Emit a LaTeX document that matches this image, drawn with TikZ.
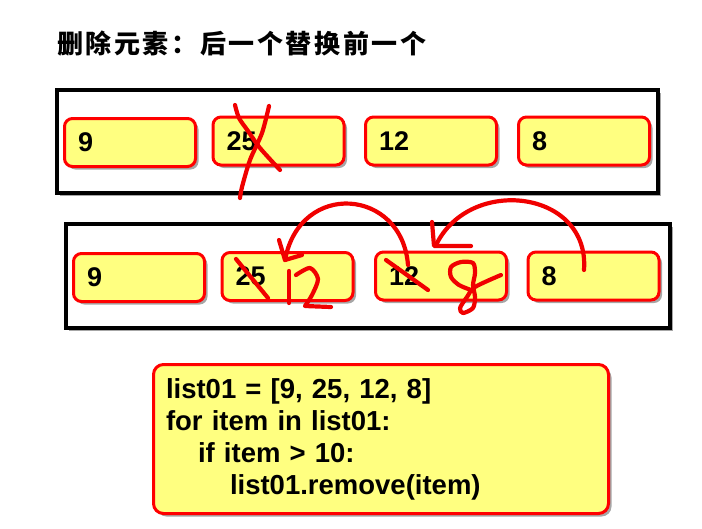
\documentclass[tikz,border=0pt]{standalone}
\usepackage{fontspec}
\setsansfont{Liberation Sans}
\newfontfamily\titlefont{Noto Sans CJK SC}[LetterSpace=10]
\usepackage{tikz}
\usetikzlibrary{shadows}
\definecolor{cellyellow}{RGB}{255,255,128}
\definecolor{penred}{RGB}{240,0,0}
\tikzset{
    softshadow/.style={
        drop shadow={shadow xshift=3pt, shadow yshift=-3pt, opacity=0.35, fill=black}
    },
    framebox/.style={
        draw=black,
        line width=4pt,
        fill=white,
        softshadow
    },
    cellbox/.style={
        rectangle,
        rounded corners=8pt,
        draw=red,
        line width=3pt,
        fill=cellyellow,
        minimum width=131pt,
        minimum height=48pt,
        text width=104pt,
        align=left,
        inner sep=0pt,
        font=\sffamily\bfseries\fontsize{27}{32}\selectfont,
        softshadow
    },
    codebox/.style={cellbox, rounded corners=10pt, minimum width=455pt, minimum height=149pt,
        text width=430pt, font=\sffamily\bfseries\fontsize{27.5}{32}\selectfont},
    penline/.style={draw=penred, line width=4.2pt, line cap=round, line join=round},
}

\begin{document}
\begin{tikzpicture}[x=1pt, y=-1pt]
    \useasboundingbox (0,0) rectangle (702,528);

    \node[anchor=west, inner sep=0pt, font=\titlefont\bfseries\fontsize{26}{30}\selectfont] (title) at (57,44) {删除元素：后一个替换前一个};

    % the two lists
    \draw[framebox] (57,90) rectangle (658,193);
    \draw[framebox] (66,224) rectangle (670,328);

    \node[cellbox] (topA) at (130,142.5) {9};
    \node[cellbox] (topB) at (278.5,141) {25};
    \node[cellbox] (topC) at (431,141) {12};
    \node[cellbox] (topD) at (584,141) {8};

    \node[cellbox] (botA) at (139,277.5) {9};
    \node[cellbox] (botB) at (287.5,276.5) {25};
    \node[cellbox] (botC) at (441,276) {12};
    \node[cellbox] (botD) at (593.5,276) {8};

    \node[codebox] (code) at (381,439) {list01 = [9, 25, 12, 8]\\
        for item in list01:\\
        \hspace*{32pt}if item > 10:\\
        \hspace*{64pt}list01.remove(item)};

    % pen marks
    \draw[penline] plot[smooth] coordinates {(235,105) (239,118) (248,131) (260,148) (280,170)};
    \draw[penline] plot[smooth] coordinates {(269,106) (262,133) (250,160) (242,187) (240,198)};

    \draw[penline] (236,259) -- (268,298);
    \draw[penline] (386,260) -- (428,290);

    \draw[penline] (289,271) -- (289,303);
    \draw[penline] plot[smooth] coordinates {(296,275) (310,268) (318,279) (312,295) (305,306)} -- (331,307);

    \draw[penline] plot[smooth] coordinates {(501,275) (475,287) (467,297) (460,308) (463,313) (473,308) (475,297) (473,285) (475,273) (473,263) (461,262) (451,267) (451,277) (459,285) (471,290)};

    \coordinate (fromC) at (408,265);
    \coordinate (tipA) at (285,260);
    \coordinate (fromD) at (584,270);
    \coordinate (tipB) at (436,245);

    \draw[penline] (fromC) .. controls (402,188) and (300,180) .. (tipA);
    \draw[penline] (279,240) -- (tipA) -- (302,255);

    \draw[penline] (fromD) .. controls (590,190) and (470,175) .. (tipB);
    \draw[penline] (432,222) -- (434,246) -- (471,246);
\end{tikzpicture}
\end{document}
